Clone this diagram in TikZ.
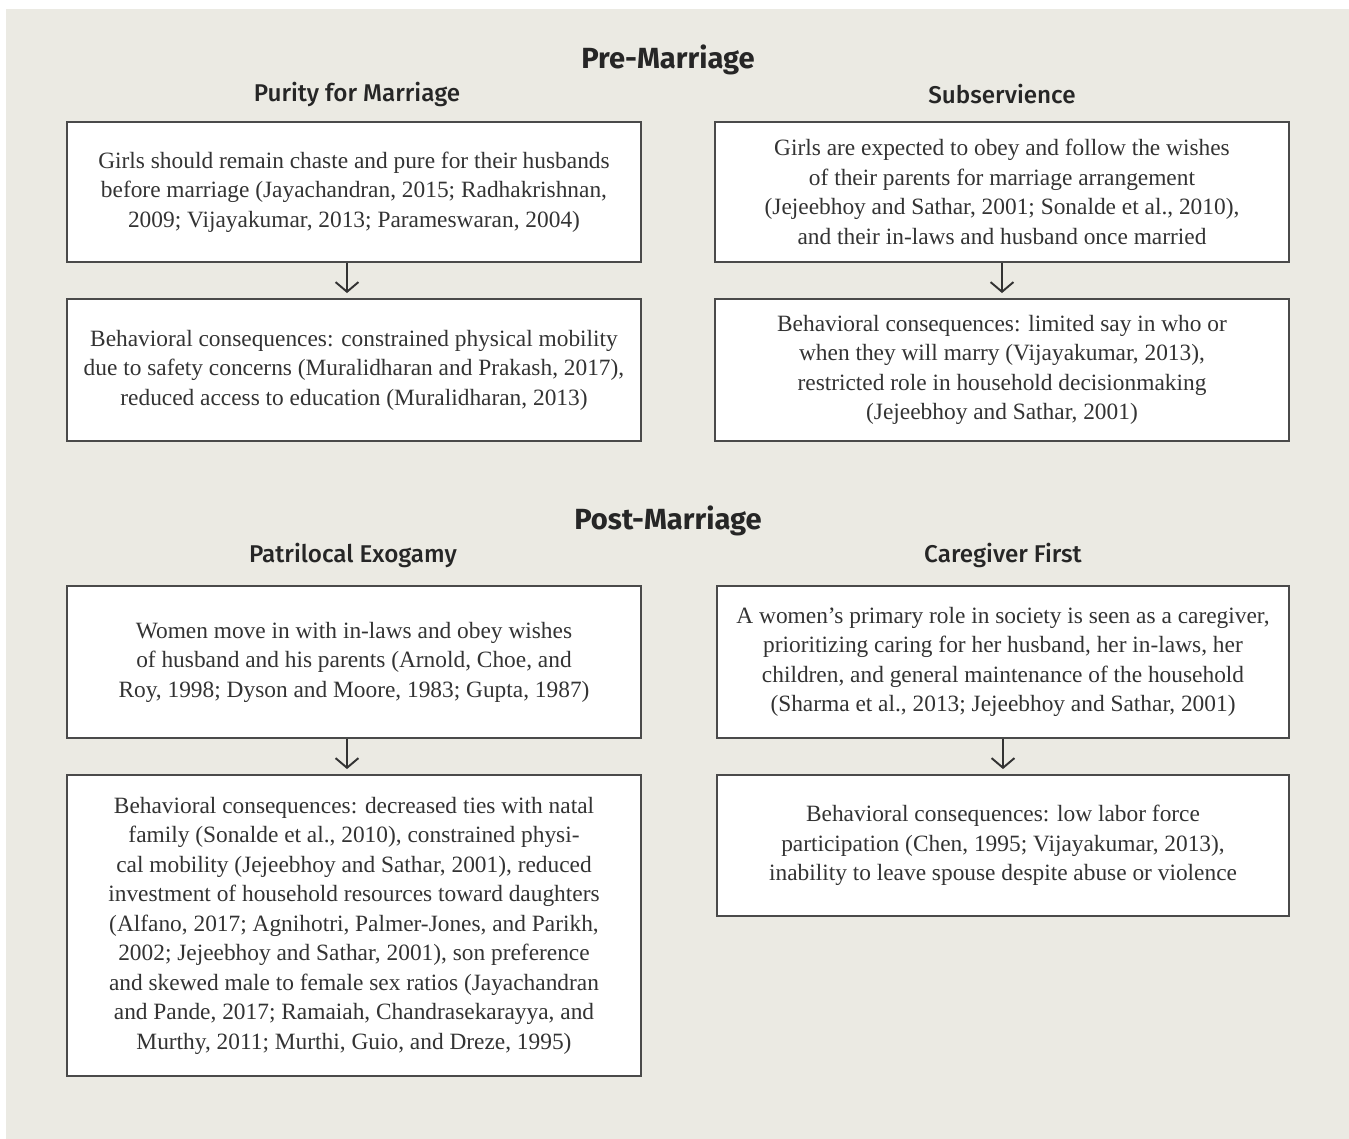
\documentclass[tikz,border=0pt]{standalone}
\usepackage{fontspec}
\setmainfont{Liberation Serif}
\setsansfont{Fira Sans}
\newfontfamily\normfont{Fira Sans Medium}
\usepackage{tikz}
\usetikzlibrary{arrows.meta,positioning,calc}
\usepackage{xcolor}
\definecolor{paper}{HTML}{EBEAE3}
\definecolor{inkgrey}{HTML}{333333}
\definecolor{boxline}{HTML}{4A4A4A}

\tikzset{
  normbox/.style={draw=boxline, line width=0.8pt, fill=white, align=center,
    minimum width=11.48cm, inner sep=0pt, text=inkgrey,
    font=\fontsize{13.3}{16.8}\selectfont,
    execute at begin node={\rule{0pt}{13pt}}},
  phase/.style={font=\sffamily\bfseries\fontsize{16.6}{19}\selectfont, text=black!85},
  norm/.style={font=\normfont\fontsize{13.8}{17}\selectfont, text=black!85},
  link/.style={->, line width=1.1pt, inkgrey, shorten >=3pt},
}

\begin{document}
\begin{tikzpicture}[x=0.02cm, y=-0.02cm, >={Straight Barb[length=5.5pt, width=13pt]}]

  % Define background and frame
  \useasboundingbox (0,0) rectangle (1349,1139);
  \fill[paper] (6,9) rectangle (1349,1139);

  % Define headings
  \node[phase] (pre) at (668,60) {Pre-Marriage};
  \node[norm] (purity) at (357,94) {Purity for Marriage};
  \node[norm] (subs) at (1002,94) {Subservience};
  \node[phase] (post) at (668,521) {Post-Marriage};
  \node[norm] (patri) at (353,555) {Patrilocal Exogamy};
  \node[norm] (care) at (1003,555) {Caregiver First};

  % Define boxes for pre-marriage norms
  \node[normbox, minimum height=2.8cm] (p1) at (354,192) {Girls should remain chaste and pure for their husbands\\
    before marriage (Jayachandran, 2015; Radhakrishnan,\\
    2009; Vijayakumar, 2013; Parameswaran, 2004)};
  \node[normbox, minimum height=2.84cm] (p2) at (354,370) {Behavioral consequences: constrained physical mobility\\
    due to safety concerns (Muralidharan and Prakash, 2017),\\
    reduced access to education (Muralidharan, 2013)};
  \node[normbox, minimum height=2.8cm] (s1) at (1002,192) {Girls are expected to obey and follow the wishes\\
    of their parents for marriage arrangement\\
    (Jejeebhoy and Sathar, 2001; Sonalde et al., 2010),\\
    and their in-laws and husband once married};
  \node[normbox, minimum height=2.84cm] (s2) at (1002,370) {Behavioral consequences: limited say in who or\\
    when they will marry (Vijayakumar, 2013),\\
    restricted role in household decisionmaking\\
    (Jejeebhoy and Sathar, 2001)};

  % Define boxes for post-marriage norms
  \node[normbox, minimum height=3.04cm] (e1) at (354,662) {Women move in with in-laws and obey wishes\\
    of husband and his parents (Arnold, Choe, and\\
    Roy, 1998; Dyson and Moore, 1983; Gupta, 1987)};
  \node[normbox, minimum height=6.02cm] (e2) at (354,925.5) {Behavioral consequences: decreased ties with natal\\
    family (Sonalde et al., 2010), constrained physi-\\
    cal mobility (Jejeebhoy and Sathar, 2001), reduced\\
    investment of household resources toward daughters\\
    (Alfano, 2017; Agnihotri, Palmer-Jones, and Parikh,\\
    2002; Jejeebhoy and Sathar, 2001), son preference\\
    and skewed male to female sex ratios (Jayachandran\\
    and Pande, 2017; Ramaiah, Chandrasekarayya, and\\
    Murthy, 2011; Murthi, Guio, and Dreze, 1995)};
  \node[normbox, minimum width=11.44cm, minimum height=3.04cm] (c1) at (1003,662) {A women’s primary role in society is seen as a caregiver,\\
    prioritizing caring for her husband, her in-laws, her\\
    children, and general maintenance of the household\\
    (Sharma et al., 2013; Jejeebhoy and Sathar, 2001)};
  \node[normbox, minimum width=11.44cm, minimum height=2.82cm] (c2) at (1003,845.5) {Behavioral consequences: low labor force\\
    participation (Chen, 1995; Vijayakumar, 2013),\\
    inability to leave spouse despite abuse or violence};

  % Draw arrows between boxes
  \draw[link] ([xshift=-0.14cm]p1.south) -- ([xshift=-0.14cm]p2.north);
  \draw[link] (s1) -- (s2);
  \draw[link] ([xshift=-0.14cm]e1.south) -- ([xshift=-0.14cm]e2.north);
  \draw[link] (c1) -- (c2);
\end{tikzpicture}
\end{document}
